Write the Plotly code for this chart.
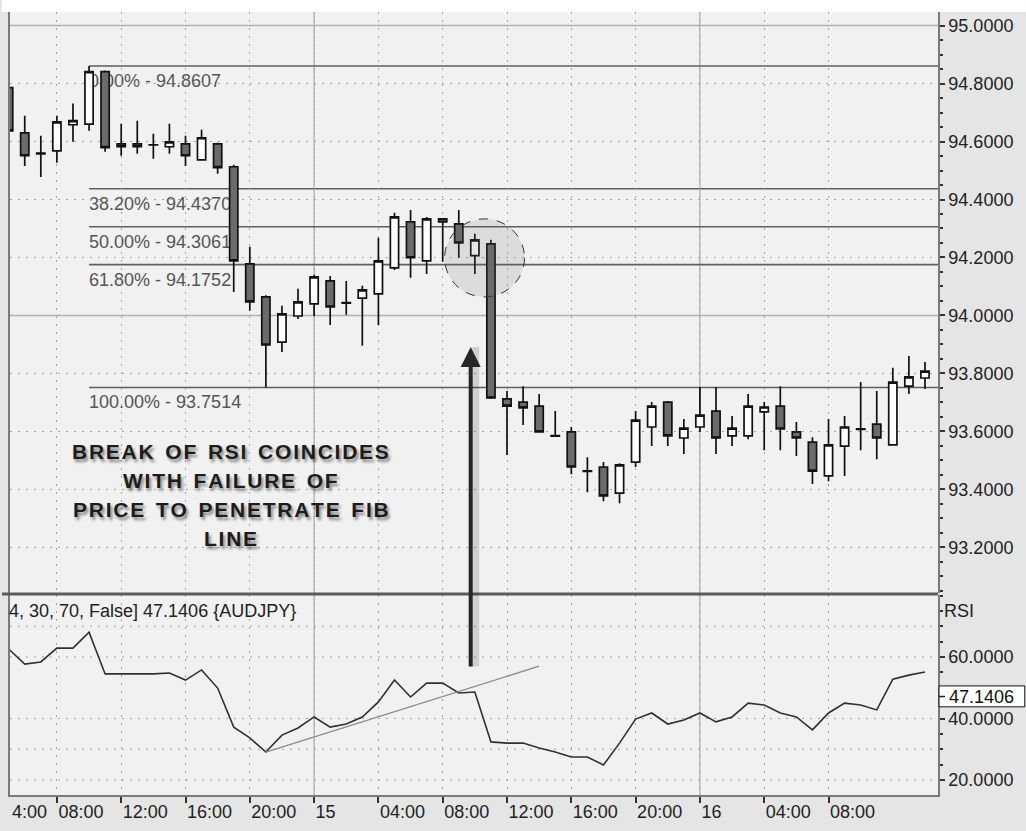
import plotly.graph_objects as go

# Hourly AUDJPY bars; hour index 0 = day 14, 00:00
hours = list(range(5, 63))
opens = [94.786, 94.630, 94.557, 94.568, 94.658, 94.660, 94.841, 94.592, 94.592, 94.589,
         94.582, 94.592, 94.537, 94.592, 94.513, 94.178, 94.064, 93.908, 93.998, 94.040,
         94.119, 94.042, 94.060, 94.074, 94.164, 94.323, 94.188, 94.323, 94.316, 94.206,
         94.247, 93.712, 93.701, 93.687, 93.585, 93.598, 93.464, 93.477, 93.387, 93.494,
         93.615, 93.701, 93.577, 93.615, 93.670, 93.584, 93.584, 93.667, 93.687, 93.598,
         93.563, 93.446, 93.549, 93.607, 93.625, 93.553, 93.756, 93.784]
highs = [94.800, 94.689, 94.620, 94.689, 94.731, 94.8607, 94.845, 94.661, 94.672, 94.627,
         94.661, 94.620, 94.641, 94.596, 94.520, 94.237, 94.070, 94.033, 94.092, 94.140,
         94.136, 94.119, 94.102, 94.268, 94.354, 94.364, 94.340, 94.336, 94.364, 94.282,
         94.261, 93.739, 93.756, 93.729, 93.670, 93.615, 93.511, 93.494, 93.490, 93.670,
         93.701, 93.705, 93.643, 93.753, 93.753, 93.653, 93.729, 93.701, 93.756, 93.632,
         93.580, 93.643, 93.653, 93.770, 93.739, 93.819, 93.860, 93.839]
lows = [94.620, 94.516, 94.478, 94.527, 94.599, 94.637, 94.565, 94.551, 94.558, 94.541,
        94.558, 94.516, 94.535, 94.489, 94.081, 94.016, 93.7514, 93.874, 93.988, 93.998,
        93.967, 94.002, 93.895, 93.967, 94.157, 94.130, 94.143, 94.185, 94.199, 94.143,
        93.712, 93.518, 93.622, 93.595, 93.582, 93.452, 93.390, 93.359, 93.352, 93.477,
        93.549, 93.549, 93.522, 93.598, 93.522, 93.549, 93.573, 93.535, 93.535, 93.515,
        93.418, 93.428, 93.446, 93.535, 93.504, 93.550, 93.729, 93.746]
closes = [94.637, 94.551, 94.560, 94.668, 94.672, 94.841, 94.579, 94.582, 94.582, 94.588,
          94.599, 94.551, 94.613, 94.510, 94.188, 94.047, 93.898, 94.005, 94.047, 94.133,
          94.029, 94.044, 94.088, 94.188, 94.340, 94.199, 94.333, 94.333, 94.250, 94.261,
          93.715, 93.687, 93.681, 93.598, 93.583, 93.477, 93.462, 93.377, 93.484, 93.639,
          93.687, 93.584, 93.611, 93.656, 93.577, 93.611, 93.687, 93.684, 93.608, 93.577,
          93.463, 93.553, 93.615, 93.609, 93.577, 93.770, 93.788, 93.808]
rsi = [62.6, 57.7, 58.4, 62.9, 62.9, 68.1, 54.5, 54.5, 54.5, 54.5,
       54.8, 52.5, 55.8, 49.9, 37.2, 33.7, 29.1, 34.6, 36.9, 40.5,
       37.2, 38.2, 40.5, 45.4, 52.5, 47.0, 51.5, 51.5, 48.3, 48.6,
       32.4, 32.0, 32.0, 30.4, 29.1, 27.5, 27.5, 24.9, 32.0, 39.8,
       41.8, 38.2, 39.5, 41.8, 38.9, 40.5, 45.0, 44.4, 41.8, 40.5,
       36.3, 41.8, 45.0, 44.4, 42.8, 52.8, 54.1, 55.1]
rsi_last = 47.1406

# Fibonacci retracement from the swing high (hour 10) to the swing low
fib_start = 10
fib_pcts = ["0.00%", "38.20%", "50.00%", "61.80%", "100.00%"]
fib_levels = [94.8607, 94.4370, 94.3061, 94.1752, 93.7514]

# RSI trend line (support) and its break
trend_x = [21, 38]
trend_y = [29.1, 57.0]

tick_hours = [8, 12, 16, 20, 24, 28, 32, 36, 40, 44, 48, 52, 56]
tick_text = ["08:00", "12:00", "16:00", "20:00", "15", "04:00", "08:00",
             "12:00", "16:00", "20:00", "16", "04:00", "08:00"]
day_breaks = [24, 48]
solid_price_levels = [95.0, 94.0]
rsi_grid = [20, 30, 40, 60, 70]
rsi_ticks = [20, 40, 60]

note_lines = ["BREAK OF RSI COINCIDES", "WITH FAILURE OF",
              "PRICE TO PENETRATE FIB", "LINE"]

X_RANGE = [5.083, 62.81]
P_RANGE = [93.0422, 95.0470]
R_RANGE = [15.12, 80.16]
P_DOM = [0.2580, 1.0]
R_DOM = [0.0, 0.2554]

FONT = "Liberation Sans, Arial, sans-serif"
DOT = "2px,6px"
GRID = "#a2a2a2"


def spaced(s):
    # open letter spacing for the callout text
    return "\u00a0\u00a0".join("\u200a".join(w) for w in s.split(" "))


fig = go.Figure()

# dotted RSI reference levels, drawn first so the RSI line sits on top
grid_x, grid_y = [], []
for lv in rsi_grid:
    grid_x += [X_RANGE[0], X_RANGE[1], None]
    grid_y += [lv, lv, None]
fig.add_trace(go.Scatter(
    x=grid_x, y=grid_y, mode="lines", line=dict(color=GRID, width=1, dash=DOT),
    xaxis="x2", yaxis="y2", showlegend=False, hoverinfo="skip", connectgaps=False,
))

fig.add_trace(go.Candlestick(
    x=hours, open=opens, high=highs, low=lows, close=closes,
    increasing=dict(line=dict(color="#111111", width=1.7), fillcolor="#ffffff"),
    decreasing=dict(line=dict(color="#111111", width=1.7), fillcolor="#6b6b6b"),
    whiskerwidth=0, xaxis="x", yaxis="y", showlegend=False, hoverinfo="skip",
))

fig.add_trace(go.Scatter(
    x=hours, y=rsi, mode="lines", line=dict(color="#303030", width=1.6),
    xaxis="x2", yaxis="y2", showlegend=False, hoverinfo="skip",
))

shapes = []
# solid day separators through both panels
for h in day_breaks:
    for yr in ("y", "y2"):
        shapes.append(dict(type="line", xref="x", yref=yr + " domain", x0=h, x1=h,
                           y0=0, y1=1, layer="below",
                           line=dict(color="#9a9a9a", width=1)))
# solid round-number price lines
for lv in solid_price_levels:
    shapes.append(dict(type="line", xref="paper", yref="y", x0=0, x1=1, y0=lv, y1=lv,
                       layer="below", line=dict(color="#b4b4b4", width=1.5)))
# Fibonacci levels with labels
for pct, lv in zip(fib_pcts, fib_levels):
    shapes.append(dict(
        type="line", xref="x", yref="y", x0=fib_start, x1=X_RANGE[1], y0=lv, y1=lv,
        layer="below", line=dict(color="#5e5e5e", width=1.6),
        label=dict(text=f"{pct} - {lv:.4f}", textposition="start", xanchor="left",
                   yanchor="top", padding=3,
                   font=dict(family=FONT, size=18, color="#555555")),
    ))
# highlighted rejection zone
shapes.append(dict(type="circle", xref="x", yref="y", x0=32.12, x1=37.09,
                   y0=94.064, y1=94.333, layer="above",
                   fillcolor="rgba(110,110,110,0.16)",
                   line=dict(color="#333333", width=1, dash="dash")))
# RSI trend line
shapes.append(dict(type="line", xref="x", yref="y2", x0=trend_x[0], x1=trend_x[1],
                   y0=trend_y[0], y1=trend_y[1], layer="above",
                   line=dict(color="#8a8a8a", width=1.3)))
# panel separator
sep_y = (P_DOM[0] + R_DOM[1]) / 2
shapes.append(dict(type="line", xref="paper", yref="paper", x0=-0.0086, x1=1.0,
                   y0=sep_y, y1=sep_y, line=dict(color="#5a5a5a", width=3)))
# white strip above the chart
shapes.append(dict(type="rect", xref="paper", yref="paper", x0=-0.0086, x1=1.0946,
                   y0=1.0, y1=1.02, fillcolor="#ffffff", line=dict(width=0)))
# last-value marker box on the RSI scale
shapes.append(dict(type="rect", xref="paper", yref="y2", x0=1.0011, x1=1.0935,
                   y0=43.8, y1=50.6, fillcolor="#ffffff",
                   line=dict(color="#111111", width=1)))
shapes.append(dict(type="line", xref="paper", yref="y2", x0=1.0011, x1=1.0076,
                   y0=rsi_last, y1=rsi_last, line=dict(color="#222222", width=1.5)))

annotations = []
# soft shadow behind the arrow, then the arrow itself
annotations.append(dict(x=33.74, y=93.891, xref="x", yref="y", ax=0, ay=321, text="",
                        showarrow=True, arrowhead=0, arrowwidth=7, xshift=5,
                        arrowcolor="rgba(0,0,0,0.13)"))
annotations.append(dict(x=33.74, y=93.891, xref="x", yref="y", ax=0, ay=321, text="",
                        showarrow=True, arrowhead=2, arrowsize=1, arrowwidth=4,
                        arrowcolor="#262626"))
for i, line in enumerate(note_lines):
    annotations.append(dict(
        x=18.8, y=93.53 - 0.1 * i, xref="x", yref="y", text=spaced(line),
        showarrow=False, xanchor="center", yanchor="middle",
        font=dict(family=FONT, size=21, color="#1c1c1c", weight="bold",
                  shadow="2px 3px 3px rgba(0,0,0,0.45)"),
    ))
annotations.append(dict(x=0, y=R_DOM[1], xref="paper", yref="paper", xanchor="left",
                        yanchor="top", yshift=-4, xshift=-3, showarrow=False,
                        text=f"4, 30, 70, False] {rsi_last:.4f} {{AUDJPY}}",
                        font=dict(family=FONT, size=18, color="#222222")))
annotations.append(dict(x=1, y=R_DOM[1], xref="paper", yref="paper", xanchor="left",
                        yanchor="top", yshift=-4, xshift=4, showarrow=False, text="RSI",
                        font=dict(family=FONT, size=18, color="#222222")))
annotations.append(dict(x=1.0097, y=rsi_last, xref="paper", yref="y2", xanchor="left",
                        yanchor="middle", showarrow=False, text=f"{rsi_last:.4f}",
                        font=dict(family=FONT, size=18, color="#111111")))
annotations.append(dict(x=0, y=0, xref="paper", yref="paper", xanchor="left",
                        yanchor="top", yshift=-5, showarrow=False, text="4:00",
                        font=dict(family=FONT, size=18, color="#222222")))

axis_font = dict(family=FONT, size=18, color="#222222")

fig.update_layout(
    width=1026, height=831,
    margin=dict(l=8, r=88, t=12, b=36),
    paper_bgcolor="#e5e5e5", plot_bgcolor="#f1f1f1",
    showlegend=False, boxgap=0.27,
    shapes=shapes, annotations=annotations,
    xaxis=dict(domain=[0, 1], anchor="y", range=X_RANGE, tickvals=tick_hours,
               showticklabels=False, ticks="", showgrid=True, gridcolor=GRID,
               griddash=DOT, gridwidth=1, zeroline=False, rangeslider=dict(visible=False),
               showline=False),
    yaxis=dict(domain=P_DOM, anchor="x", range=P_RANGE, side="right", dtick=0.2,
               tick0=93.0, tickformat=".4f", ticks="outside", ticklen=5, tickwidth=1.5,
               tickcolor="#333333", tickfont=axis_font, showgrid=True, gridcolor=GRID,
               griddash=DOT, zeroline=False, showline=True, linecolor="#7a7a7a",
               linewidth=1.5, mirror=True,
               minor=dict(dtick=0.05, ticks="outside", ticklen=3, tickcolor="#333333",
                          tickwidth=1.5, showgrid=False)),
    xaxis2=dict(domain=[0, 1], anchor="y2", range=X_RANGE, tickvals=tick_hours,
                ticktext=tick_text, ticks="outside", ticklen=6, tickwidth=1.5,
                tickcolor="#333333", ticklabelposition="outside right",
                tickfont=axis_font, showgrid=True, gridcolor=GRID, griddash=DOT,
                zeroline=False, showline=True, linecolor="#7a7a7a", linewidth=1.5),
    yaxis2=dict(domain=R_DOM, anchor="x2", range=R_RANGE, side="right",
                tickvals=rsi_ticks, tickformat=".4f", ticks="outside", ticklen=5,
                tickwidth=1.5, tickcolor="#333333", tickfont=axis_font, showgrid=False,
                zeroline=False, showline=True, linecolor="#7a7a7a", linewidth=1.5,
                mirror=True,
                minor=dict(dtick=5, ticks="outside", ticklen=3, tickcolor="#333333",
                           tickwidth=1.5, showgrid=False)),
)

fig.write_html("out.html")
